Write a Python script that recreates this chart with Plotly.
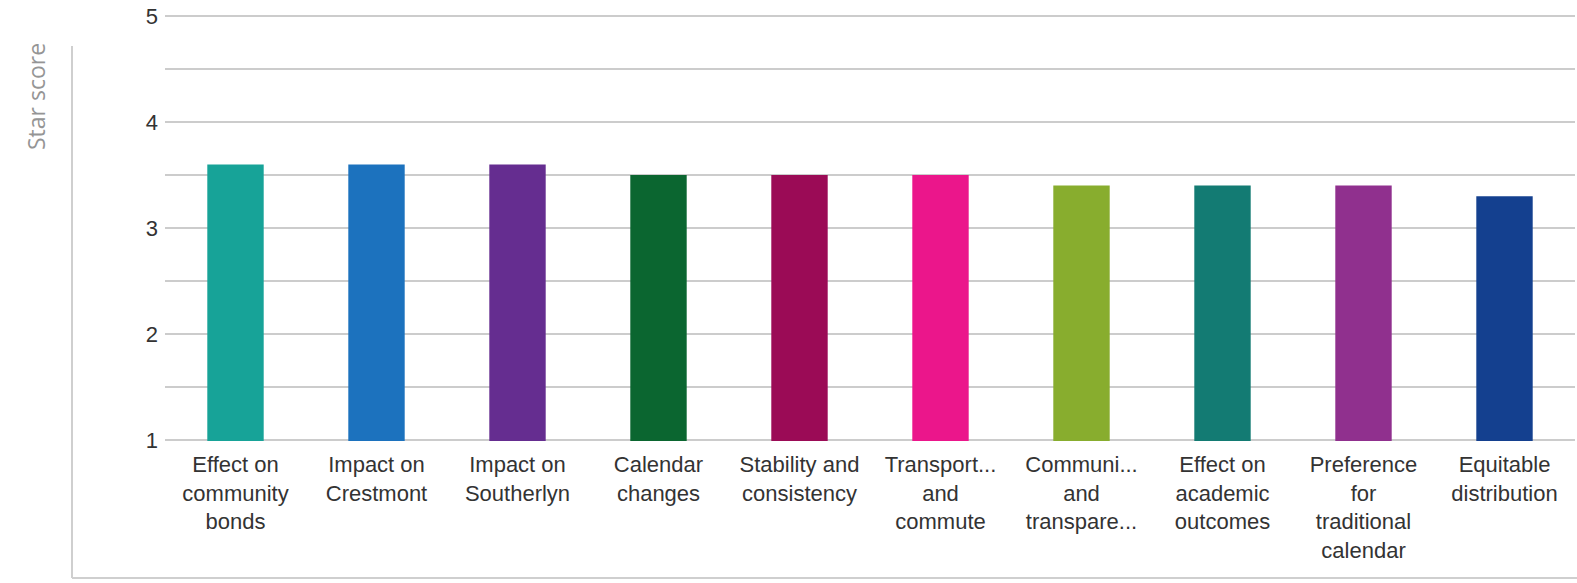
import plotly.graph_objects as go

categories = [
    "Effect on<br>community<br>bonds",
    "Impact on<br>Crestmont",
    "Impact on<br>Southerlyn",
    "Calendar<br>changes",
    "Stability and<br>consistency",
    "Transport...<br>and<br>commute",
    "Communi...<br>and<br>transpare...",
    "Effect on<br>academic<br>outcomes",
    "Preference<br>for<br>traditional<br>calendar",
    "Equitable<br>distribution",
]
scores = [3.6, 3.6, 3.6, 3.5, 3.5, 3.5, 3.4, 3.4, 3.4, 3.3]
colors = ["#17a398", "#1c72be", "#652d90", "#0b6630", "#9b0b56",
          "#eb168b", "#88ad2e", "#137b73", "#90308e", "#14408f"]
y_ticks = [1, 2, 3, 4, 5]

fig = go.Figure(go.Bar(
    x=categories, y=scores, marker=dict(color=colors, line=dict(width=0)),
    width=0.4, hoverinfo="skip",
))

W, H = 1577, 583
ymin, ymax = 0.99, 5.01
unit = 106.0  # px per star
plot_top = 16 - (ymax - 5) * unit
plot_h = (ymax - ymin) * unit
ml = 165
mr = 2
mt = plot_top
mb = H - mt - plot_h

fig.update_layout(
    width=W, height=H,
    margin=dict(l=ml, r=mr, t=mt, b=mb, pad=0, autoexpand=False),
    paper_bgcolor="white", plot_bgcolor="white",
    showlegend=False,
    font=dict(family="Liberation Sans, Arial, sans-serif", size=22, color="#333333"),
    xaxis=dict(showgrid=False, showline=False, zeroline=False, ticks="",
               tickfont=dict(size=22, color="#333333"), tickangle=0,
               ticklabelstandoff=8, automargin=False),
    yaxis=dict(range=[ymin, ymax], tickvals=y_ticks, ticktext=[str(v) for v in y_ticks],
               showgrid=True, gridcolor="#cccccc", gridwidth=2,
               minor=dict(dtick=0.5, tick0=1, showgrid=True, gridcolor="#cccccc", gridwidth=2),
               zeroline=False, showline=False, ticks="", ticklabelstandoff=6,
               ticklabeloverflow="allow", automargin=False,
               tickfont=dict(size=22, color="#333333")),
)

pw = W - ml - mr
ph = plot_h
def px(xp):
    return (xp - ml) / pw
def py(yp):
    return (plot_top + plot_h - yp) / ph

fig.add_annotation(
    text="Star score", textangle=-90, showarrow=False,
    xref="paper", yref="paper", x=px(36), y=py(97),
    xanchor="center", yanchor="middle",
    font=dict(family="Open Sans, sans-serif", size=23, color="#959595"),
)
fig.add_shape(type="line", xref="paper", yref="paper",
              x0=px(72), x1=px(72), y0=py(46), y1=py(578),
              line=dict(color="#cfcfcf", width=2))
fig.add_shape(type="line", xref="paper", yref="paper",
              x0=px(72), x1=px(1577), y0=py(578), y1=py(578),
              line=dict(color="#cfcfcf", width=2))

fig.write_html("out.html", config={"displayModeBar": False},
               post_script="document.body.style.margin='0px';")
